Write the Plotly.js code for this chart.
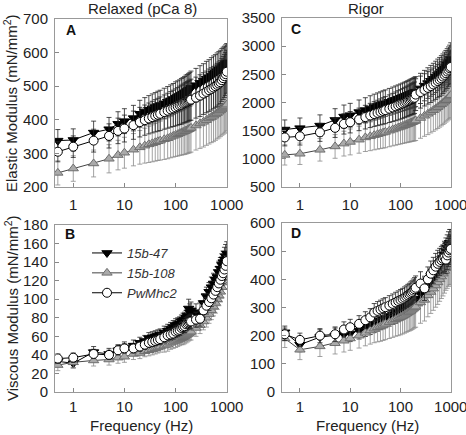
<!DOCTYPE html>
<html>
<head>
<meta charset="utf-8">
<script src="https://cdn.plot.ly/plotly-3.0.1.min.js"></script>
<style>html,body{margin:0;padding:0;background:#fff;}#chart{width:466px;height:435px;}</style>
</head>
<body>
<div id="chart"></div>
<script>
// Frequencies (Hz)
const freq = [0.5,1,2.5,5,7.5,10,15,20,25,30,35,40,45,50,60,70,80,90,100,110,120,130,140,150,160,170,180,190,200,250,300,350,400,450,500,550,600,650,700,750,800,850,900,950,1000];

const seriesNames = ["15b-47", "15b-108", "PwMhc2"];
const panelTitles = ["Relaxed (pCa 8)", "Rigor"];
const panelLabels = ["A", "C", "B", "D"];
const xTickVals = [1, 10, 100, 1000];
const xTickText = ["1", "10", "100", "1000"];

// Panel A: Elastic modulus, relaxed
const A_47  = [338,340,362,372,388,396,405,418,425,430,434,438,441,444,449,454,458,462,466,469,472,475,478,481,484,486,489,491,495,503,510,516,522,527,532,537,541,545,549,553,557,561,564,567,571];
const A_108 = [242,255,270,284,295,302,311,318,323,327,330,333,336,338,342,345,349,352,355,357,360,362,364,366,368,370,372,374,376,383,389,394,399,404,408,412,416,420,424,428,432,435,438,441,445];
const A_pw  = [305,320,338,352,367,374,384,393,399,404,408,412,415,418,423,427,431,434,437,440,443,445,448,450,452,454,456,458,460,466,472,478,483,488,492,496,500,504,508,512,518,524,530,536,543];
const eA_47  = [33,33,34,35,36,37,38,40,41,42,43,43,44,44,45,45,46,46,47,47,47,48,48,48,49,49,49,50,50,50,51,51,52,52,53,53,53,54,54,54,55,55,55,56,56];
const eA_108 = [36,38,40,42,44,46,48,50,52,54,55,56,57,58,60,61,62,63,64,65,66,67,68,69,70,70,71,72,72,73,74,75,75,76,76,77,77,77,78,78,78,78,78,78,78];
const eA_pw  = [30,32,34,36,38,40,42,44,45,46,47,48,49,50,51,52,53,54,55,56,57,58,58,59,59,60,60,60,61,61,62,62,62,63,63,63,63,64,64,64,64,64,64,64,64];

// Panel C: Elastic modulus, rigor
const C_47  = [1520,1545,1590,1690,1750,1775,1830,1865,1895,1920,1940,1958,1974,1988,2012,2034,2052,2068,2083,2097,2110,2122,2134,2145,2155,2165,2175,2184,2193,2250,2300,2345,2385,2420,2455,2490,2520,2550,2580,2610,2640,2670,2700,2730,2770];
const C_108 = [1070,1090,1160,1220,1270,1300,1340,1380,1400,1420,1437,1452,1465,1478,1500,1520,1537,1553,1568,1582,1595,1607,1618,1629,1640,1650,1660,1670,1680,1725,1765,1800,1832,1862,1890,1917,1943,1968,1993,2017,2040,2063,2085,2107,2130];
const C_pw  = [1380,1400,1470,1550,1620,1650,1700,1740,1770,1795,1815,1833,1850,1865,1890,1912,1932,1950,1967,1983,1998,2012,2025,2038,2050,2062,2073,2084,2140,2185,2225,2260,2290,2320,2350,2380,2405,2430,2460,2490,2520,2550,2580,2610,2630];
const eC_47  = [170,180,190,200,205,210,215,220,225,228,230,232,234,236,238,240,242,244,246,248,250,252,254,256,258,260,262,264,266,268,270,272,274,276,278,280,280,282,282,284,284,286,286,288,290];
const eC_108 = [180,190,200,210,220,230,240,250,255,260,265,270,275,280,285,290,295,300,305,310,315,320,325,330,335,340,345,350,355,360,365,370,372,374,376,378,380,382,384,386,388,390,392,395,400];
const eC_pw  = [150,155,160,170,180,190,200,210,215,220,225,230,235,240,245,250,255,260,262,264,266,268,270,272,274,276,278,280,282,284,286,288,290,292,294,296,298,300,300,300,300,300,300,300,300];

// Panel B: Viscous modulus, relaxed
const B_47  = [33,31,43,41,45,48,50,53,55,58,59,60,61,62,64,66,68,70,72,73,74,76,77,78,80,82,90,86,88,85,86,96,103,108,113,117,121,124,129,133,137,140,143,146,149];
const B_108 = [29,32,34,35,37,38,41,42,44,45,46,47,48,49,50,51,53,54,55,56,57,58,59,60,61,62,63,64,65,69,72,76,80,84,88,92,96,100,104,108,113,118,123,128,134];
const B_pw  = [36,37,41,40,45,47,47,49,51,53,54,55,56,57,59,61,62,63,65,66,67,69,70,71,73,74,75,76,76,78,79,88,93,97,101,105,109,113,117,121,125,128,132,136,141];
const eB_47  = [5,5,6,6,6,6,6,6,6,6,6,6,6,6,7,7,7,7,7,7,7,7,8,8,8,8,10,9,9,10,10,10,10,10,11,11,11,11,12,12,12,12,13,13,13];
const eB_108 = [6,6,6,6,6,6,6,6,6,6,6,6,6,6,7,7,7,7,7,7,7,7,8,8,8,8,8,8,9,9,9,9,10,10,10,10,11,11,11,11,12,12,12,12,12];
const eB_pw  = [5,5,5,5,5,5,5,5,5,5,5,5,5,6,6,6,6,6,6,6,6,6,6,7,7,7,7,7,8,8,8,8,9,9,9,9,10,10,10,10,10,11,11,11,11];

// Panel D: Viscous modulus, rigor
const D_47  = [212,168,195,200,205,208,218,228,236,244,250,255,259,263,270,276,281,286,291,295,299,303,307,311,315,319,323,327,331,348,363,378,393,408,422,436,450,463,476,489,501,512,522,530,530];
const D_108 = [190,150,162,173,182,190,200,210,218,225,230,234,238,242,248,253,258,262,266,270,274,278,282,285,288,292,296,300,303,318,327,343,355,367,378,389,400,410,420,430,440,448,455,460,462];
const D_pw  = [205,185,200,205,222,230,242,255,265,282,288,293,297,301,307,313,318,323,327,331,335,339,343,347,351,355,360,365,370,385,368,400,420,432,445,455,462,468,473,478,470,485,495,503,508];
const eD_47  = [22,25,26,27,28,29,30,31,32,33,34,34,35,35,36,36,37,37,38,38,38,39,39,39,40,40,40,41,41,42,42,43,43,44,44,44,45,45,45,46,46,46,47,47,47];
const eD_108 = [32,35,36,38,40,42,44,46,48,50,52,54,55,56,58,59,60,62,63,64,65,66,67,68,69,70,71,72,73,74,75,76,76,77,77,78,78,78,79,79,79,80,80,80,80];
const eD_pw  = [22,24,25,26,27,28,29,30,31,32,33,33,34,34,35,35,36,36,37,37,38,38,39,39,40,40,41,41,42,42,43,44,45,46,47,48,48,49,49,50,50,50,50,50,50];

const panels = [
  {xa:'x',  ya:'y',  data:[A_47, A_108, A_pw], err:[eA_47, eA_108, eA_pw], legend:false},
  {xa:'x2', ya:'y2', data:[C_47, C_108, C_pw], err:[eC_47, eC_108, eC_pw], legend:false},
  {xa:'x3', ya:'y3', data:[B_47, B_108, B_pw], err:[eB_47, eB_108, eB_pw], legend:true},
  {xa:'x4', ya:'y4', data:[D_47, D_108, D_pw], err:[eD_47, eD_108, eD_pw], legend:false}
];

const styles = [
  {marker:{symbol:'triangle-down', size:9, color:'#000', line:{color:'#000', width:1}}, line:{color:'#000', width:1}, ecol:'#222'},
  {marker:{symbol:'triangle-up', size:9, color:'#aaaaaa', line:{color:'#6e6e6e', width:1}}, line:{color:'#444', width:1}, ecol:'#8a8a8a'},
  {marker:{symbol:'circle', size:9, color:'#fff', line:{color:'#000', width:1}}, line:{color:'#000', width:1}, ecol:'#222'}
];

const traces = [];
panels.forEach(p => {
  p.data.forEach((vals, i) => {
    traces.push({
      type:'scatter', mode:'lines+markers',
      x: freq, y: vals, xaxis: p.xa, yaxis: p.ya,
      name: seriesNames[i], showlegend: p.legend,
      marker: styles[i].marker, line: styles[i].line,
      error_y: {type:'data', array: p.err[i], visible:true, color: styles[i].ecol, thickness:0.8, width:2.5}
    });
  });
});

const fnt = {family:'"Liberation Sans", Arial, sans-serif', size:15, color:'#222'};
function xax(domain, anchor, standoff) {
  return {type:'log', range:[Math.log10(0.44), Math.log10(1010)], domain:domain, anchor:anchor,
    tickvals:xTickVals, ticktext:xTickText, ticks:'inside', ticklen:4, tickcolor:'#888',
    showline:true, linecolor:'#999', linewidth:1, mirror:true, showgrid:false, zeroline:false,
    tickfont:fnt, ticklabelstandoff:standoff, ticklabeloverflow:'allow'};
}
function yax(domain, anchor, range, dtick) {
  return {range:range, dtick:dtick, domain:domain, anchor:anchor, ticks:'inside', ticklen:4, tickcolor:'#888',
    showline:true, linecolor:'#999', linewidth:1, mirror:true, showgrid:false, zeroline:false,
    tickfont:fnt, ticklabelstandoff:3, ticklabeloverflow:'allow'};
}
const W = 466, H = 435;
const dx = (a,b) => [a/W, b/W];
const dy = (top,bot) => [1-bot/H, 1-top/H];

const annFont = fnt;
const lblFont = {family:'"Liberation Sans", Arial, sans-serif', size:14, color:'#111'};
const layout = {
  width:W, height:H, margin:{l:0,r:0,t:0,b:0}, paper_bgcolor:'#fff', plot_bgcolor:'#fff',
  xaxis: xax(dx(55,227), 'y', 4),
  yaxis: yax(dy(19,187), 'x', [200,700], 100),
  xaxis2: xax(dx(282,451), 'y2', 4),
  yaxis2: yax(dy(18,187), 'x2', [500,3500], 500),
  xaxis3: xax(dx(55,227), 'y3', 1),
  yaxis3: yax(dy(225,392), 'x3', [0,180], 20),
  xaxis4: xax(dx(282,451), 'y4', 1),
  yaxis4: yax(dy(223,392), 'x4', [0,600], 100),
  showlegend:true,
  legend:{x:87/W, y:1-238/H, xanchor:'left', yanchor:'top', bgcolor:'rgba(0,0,0,0)',
    font:{family:'"Liberation Sans", Arial, sans-serif', size:13, color:'#333', style:'italic'},
    tracegroupgap:0},
  annotations:[
    {text:panelTitles[0], x:142/W, y:1-8/H, xref:'paper', yref:'paper', showarrow:false, font:annFont, xanchor:'center', yanchor:'middle'},
    {text:panelTitles[1], x:366/W, y:1-8/H, xref:'paper', yref:'paper', showarrow:false, font:annFont, xanchor:'center', yanchor:'middle'},
    {text:'Elastic Modulus (mN/mm<sup>2</sup>)', x:11/W, y:1-103/H, xref:'paper', yref:'paper', showarrow:false, textangle:-90, font:annFont, xanchor:'center', yanchor:'middle'},
    {text:'Viscous Modulus (mN/mm<sup>2</sup>)', x:11/W, y:1-308/H, xref:'paper', yref:'paper', showarrow:false, textangle:-90, font:annFont, xanchor:'center', yanchor:'middle'},
    {text:'Frequency (Hz)', x:141/W, y:1-425/H, xref:'paper', yref:'paper', showarrow:false, font:annFont, xanchor:'center', yanchor:'middle'},
    {text:'Frequency (Hz)', x:367/W, y:1-425/H, xref:'paper', yref:'paper', showarrow:false, font:annFont, xanchor:'center', yanchor:'middle'},
    {text:'<b>'+panelLabels[0]+'</b>', x:64/W, y:1-30/H, xref:'paper', yref:'paper', showarrow:false, font:lblFont, xanchor:'left', yanchor:'middle'},
    {text:'<b>'+panelLabels[1]+'</b>', x:289/W, y:1-29/H, xref:'paper', yref:'paper', showarrow:false, font:lblFont, xanchor:'left', yanchor:'middle'},
    {text:'<b>'+panelLabels[2]+'</b>', x:63/W, y:1-234/H, xref:'paper', yref:'paper', showarrow:false, font:lblFont, xanchor:'left', yanchor:'middle'},
    {text:'<b>'+panelLabels[3]+'</b>', x:289/W, y:1-233/H, xref:'paper', yref:'paper', showarrow:false, font:lblFont, xanchor:'left', yanchor:'middle'}
  ]
};
Plotly.newPlot('chart', traces, layout, {staticPlot:true, displayModeBar:false});
</script>
</body>
</html>
